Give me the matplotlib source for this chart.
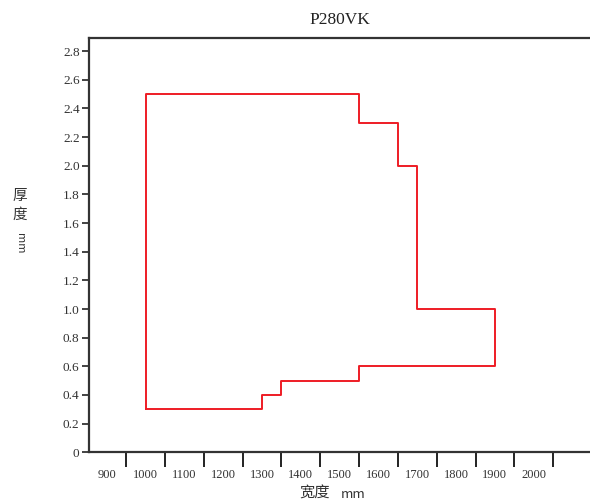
import matplotlib
matplotlib.use("Agg")
import matplotlib.pyplot as plt
from matplotlib.ticker import FixedLocator, NullFormatter

# data: outline of the width/thickness range
widths = [1000, 1000, 1550, 1550, 1650, 1650, 1700, 1700, 1900, 1900,
          1550, 1550, 1350, 1350, 1300, 1300, 1000]
thicks = [0.3, 2.5, 2.5, 2.3, 2.3, 2.0, 2.0, 1.0, 1.0, 0.6,
          0.6, 0.5, 0.5, 0.4, 0.4, 0.3, 0.3]

x_labels = [900, 1000, 1100, 1200, 1300, 1400, 1500, 1600, 1700, 1800, 1900, 2000]
x_tickmarks = [950, 1050, 1150, 1250, 1350, 1450, 1550, 1650, 1750, 1850, 1950, 2050]
y_ticks = [0, 0.2, 0.4, 0.6, 0.8, 1.0, 1.2, 1.4, 1.6, 1.8, 2.0, 2.2, 2.4, 2.6, 2.8]
y_ticklabels = ["0", "0.2", "0.4", "0.6", "0.8", "1.0", "1.2", "1.4", "1.6",
                "1.8", "2.0", "2.2", "2.4", "2.6", "2.8"]

title = "P280VK"

num_font = ["Liberation Serif", "Noto Sans CJK SC"]
cjk_font = ["Noto Sans CJK SC", "DejaVu Sans"]

fig = plt.figure(figsize=(5.9, 5.04), dpi=100)
ax = fig.add_axes([0.1514, 0.1026, 0.8486, 0.8214])

ax.plot(widths, thicks, color="#ee1c25", lw=1.4)

ax.set_xlim(855, 2145)
ax.set_ylim(0, 2.89)

for s in ["left", "bottom", "top"]:
    ax.spines[s].set_color("#333333")
    ax.spines[s].set_linewidth(1.6)
ax.spines["right"].set_visible(False)

# x axis: long tick marks between labels
ax.xaxis.set_major_locator(FixedLocator(x_tickmarks))
ax.xaxis.set_major_formatter(NullFormatter())
ax.xaxis.set_minor_locator(FixedLocator(x_labels))
ax.set_xticklabels([str(v) for v in x_labels], minor=True,
                   fontfamily=num_font, fontsize=9, color="#333333")
ax.tick_params(axis="x", which="major", length=11, width=1.3, color="#111111", direction="out")
ax.tick_params(axis="x", which="minor", length=0, pad=12)

ax.set_yticks(y_ticks)
ax.set_yticklabels(y_ticklabels, fontfamily=num_font, fontsize=9.5, color="#333333")
ax.tick_params(axis="y", length=5, width=1.2, color="#222222", pad=2)

ax.set_title(title, fontfamily=num_font, fontsize=12.5, color="#222222", pad=10)

fig.text(0.534, 0.004, "宽度", ha="center", va="bottom",
         fontfamily=cjk_font, fontsize=11, color="#333333")
fig.text(0.598, 0.006, "mm", ha="center", va="bottom",
         fontfamily=cjk_font, fontsize=9.5, color="#333333")
fig.text(0.034, 0.612, "厚", ha="center", va="center", fontfamily=cjk_font, fontsize=10.5, color="#333333")
fig.text(0.034, 0.574, "度", ha="center", va="center", fontfamily=cjk_font, fontsize=10.5, color="#333333")
fig.text(0.034, 0.517, "mm", ha="center", va="center", rotation=270,
         fontfamily=cjk_font, fontsize=8, color="#333333")

fig.savefig("out.png", dpi=100, facecolor="white")
